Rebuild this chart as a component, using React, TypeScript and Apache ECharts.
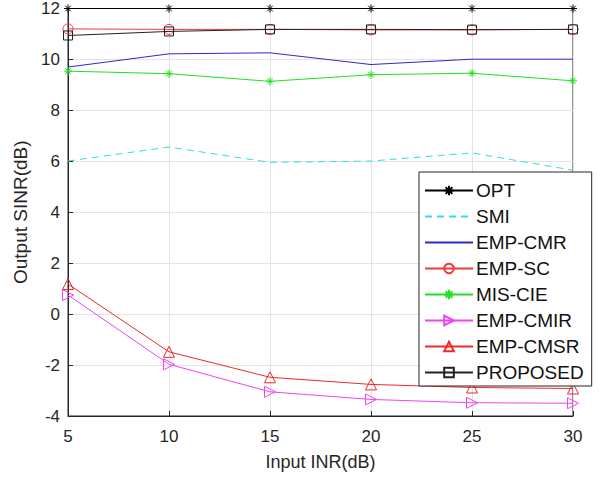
import React, { useEffect, useRef } from "react";
import * as echarts from "echarts";

const inr = [5, 10, 15, 20, 25, 30];
const opt = [12, 12, 12, 12, 12, 12];
const smi = [6.01, 6.56, 5.96, 6.01, 6.33, 5.65];
const empCmr = [9.7, 10.22, 10.26, 9.8, 10.01, 10.01];
const empSc = [11.2, 11.18, 11.18, 11.16, 11.16, 11.18];
const misCie = [9.54, 9.44, 9.14, 9.4, 9.46, 9.16];
const empCmir = [0.75, -1.97, -3.05, -3.35, -3.48, -3.5];
const empCmsr = [1.18, -1.48, -2.48, -2.76, -2.88, -2.92];
const proposed = [10.94, 11.1, 11.18, 11.18, 11.17, 11.18];

const yTicks = [-4, 12, 2];
const xTicks = [5, 30, 5];

const ASTER = "path://M5,0L5,10M0,5L10,5M1.5,1.5L8.5,8.5M1.5,8.5L8.5,1.5";
const RTRI = "path://M0,0L10,5L0,10Z";

const FONT = "'Liberation Sans', Arial, sans-serif";

function mk(name: string, data: number[], color: string, symbol: string, size: number, dashed = false) {
  const hidden = symbol === "none";
  return {
    name,
    type: "line",
    data: inr.map((x, i) => [x, data[i]]),
    clip: false,
    symbol: hidden ? "circle" : symbol,
    symbolSize: hidden ? 0 : size,
    showSymbol: !hidden,
    symbolKeepAspect: true,
    lineStyle: { color, width: 1, type: dashed ? [7, 5] : "solid" },
    itemStyle: hidden
      ? { color: "rgba(0,0,0,0)", borderColor: "rgba(0,0,0,0)", borderWidth: 0 }
      : { color: "rgba(0,0,0,0)", borderColor: color, borderWidth: 1 },
    emphasis: { disabled: true },
  };
}

export default function App() {
  const ref = useRef<HTMLDivElement>(null);
  useEffect(() => {
    const chart = echarts.init(ref.current!, null, { renderer: "svg" });
    chart.setOption({
      animation: false,
      grid: {
        left: 68,
        right: 36,
        top: 8,
        bottom: 63,
        show: true,
        borderColor: "#262626",
        borderWidth: 1,
        backgroundColor: "#fff",
      },
      xAxis: {
        type: "value",
        min: xTicks[0],
        max: xTicks[1],
        interval: xTicks[2],
        name: "Input INR(dB)",
        nameLocation: "middle",
        nameGap: 37,
        nameTextStyle: { fontFamily: FONT, fontSize: 18, color: "#262626" },
        axisLine: { onZero: false, lineStyle: { color: "#262626" } },
        axisTick: { inside: true, length: 5, lineStyle: { color: "#262626" } },
        axisLabel: { fontFamily: FONT, fontSize: 17, color: "#262626", margin: 12 },
        splitLine: { show: true, lineStyle: { color: "#e3e3e3" } },
      },
      yAxis: {
        type: "value",
        min: yTicks[0],
        max: yTicks[1],
        interval: yTicks[2],
        name: "Output SINR(dB)",
        nameLocation: "middle",
        nameGap: 26,
        nameTextStyle: { fontFamily: FONT, fontSize: 19, color: "#262626" },
        axisLine: { show: true, onZero: false, lineStyle: { color: "#262626" } },
        axisTick: { show: true, inside: true, length: 5, lineStyle: { color: "#262626" } },
        axisLabel: { fontFamily: FONT, fontSize: 17, color: "#262626", margin: 8 },
        splitLine: { show: true, lineStyle: { color: "#e3e3e3" } },
      },
      legend: {
        orient: "vertical",
        left: 419,
        top: 172,
        padding: [9, 8, 4, 5],
        itemWidth: 48,
        itemHeight: 12,
        itemGap: 7,
        backgroundColor: "#fff",
        borderColor: "#262626",
        borderWidth: 1,
        textStyle: { fontFamily: FONT, fontSize: 19, color: "#111", padding: [0, 0, 0, -2] },
        data: ["OPT", "SMI", "EMP-CMR", "EMP-SC", "MIS-CIE", "EMP-CMIR", "EMP-CMSR", "PROPOSED"],
      },
      series: [
        mk("OPT", opt, "#000000", ASTER, 8),
        mk("SMI", smi, "#2ee0e0", "none", 0, true),
        mk("EMP-CMR", empCmr, "#2a2ad0", "none", 0),
        mk("EMP-SC", empSc, "#f03a3a", "circle", 10),
        mk("MIS-CIE", misCie, "#22e022", ASTER, 8),
        mk("EMP-CMIR", empCmir, "#ee44ee", RTRI, 11),
        mk("EMP-CMSR", empCmsr, "#ee2a2a", "triangle", 11),
        mk("PROPOSED", proposed, "#222222", "rect", 9),
      ],
    });
    return () => chart.dispose();
  }, []);
  return <div ref={ref} style={{ width: 609, height: 479, position: "absolute", left: 0, top: 0, background: "#fff" }} />;
}
